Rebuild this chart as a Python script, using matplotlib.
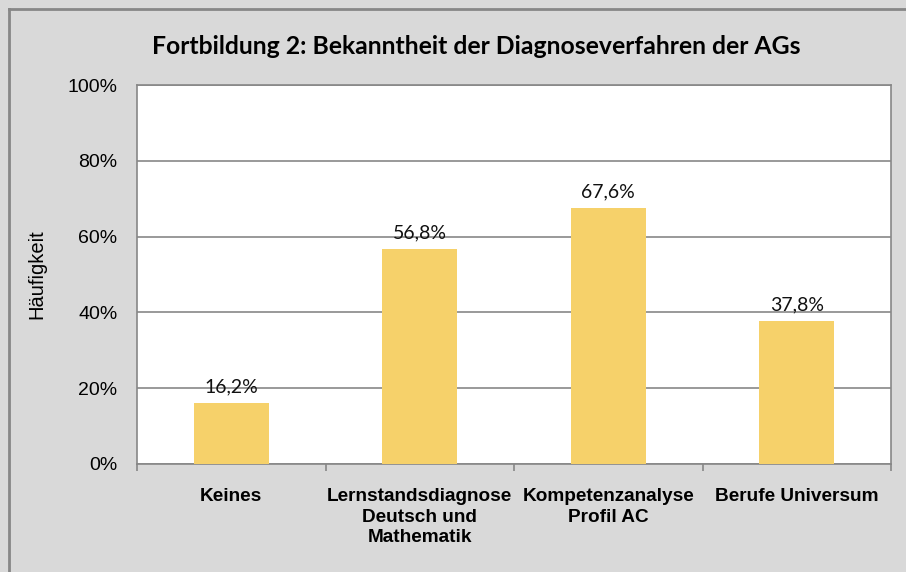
import matplotlib.pyplot as plt
from matplotlib.lines import Line2D
from matplotlib.ticker import FixedLocator, PercentFormatter
import numpy as np

# data
categories = ['Keines', 'Lernstandsdiagnose\nDeutsch und\nMathematik',
              'Kompetenzanalyse\nProfil AC', 'Berufe Universum']
values = [16.2, 56.8, 67.6, 37.8]
value_labels = ['16,2%', '56,8%', '67,6%', '37,8%']
y_ticks = [0, 20, 40, 60, 80, 100]

bg = '#d9d9d9'
edge = '#878787'
bar_color = '#f6d16a'

fig = plt.figure(figsize=(9.06, 5.72), dpi=100)
fig.patch.set_facecolor(bg)

# outer frame (only top and left visible in the crop)
fig.add_artist(Line2D([8.5 / 906, 1], [1 - 8.5 / 572] * 2, transform=fig.transFigure,
                      color=edge, lw=2))
fig.add_artist(Line2D([8.5 / 906] * 2, [0, 1 - 8.5 / 572], transform=fig.transFigure,
                      color=edge, lw=2))

ax = fig.add_axes([137 / 906, 1 - 464 / 572, (891 - 137) / 906, (464 - 85) / 572])
ax.set_facecolor('white')

x = np.arange(len(categories))
ax.bar(x, values, width=0.4, color=bar_color, zorder=3)

for xi, v, lab in zip(x, values, value_labels):
    ax.annotate(lab, (xi, v), xytext=(0, 5), textcoords='offset points',
                ha='center', va='bottom', fontsize=14, family='Lato', color='#111111')

ax.set_xlim(-0.5, len(categories) - 0.5)
ax.set_ylim(0, 100)
ax.set_yticks(y_ticks)
ax.yaxis.set_major_formatter(PercentFormatter(decimals=0))
ax.grid(axis='y', color=edge, lw=1.2, zorder=1)

ax.set_xticks(x)
ax.set_xticklabels(categories, fontsize=13.7, fontweight='bold', family='Liberation Sans',
                   linespacing=1.25)
ax.xaxis.set_minor_locator(FixedLocator(np.arange(len(categories) + 1) - 0.5))
ax.tick_params(axis='x', which='major', length=0, pad=17.5)
ax.tick_params(axis='x', which='minor', length=5, color=edge, width=1.2)
ax.tick_params(axis='y', length=0, pad=14, labelsize=14)
for t in ax.get_yticklabels():
    t.set_family('Liberation Sans')

for s in ax.spines.values():
    s.set_color(edge)
    s.set_linewidth(1.2)

ax.set_ylabel('Häufigkeit', fontsize=14.5, family='Liberation Sans', labelpad=15)

fig.text(476 / 906, 1 - 46 / 572, 'Fortbildung 2: Bekanntheit der Diagnoseverfahren der AGs',
         ha='center', va='center', fontsize=17.8, fontweight='bold', family='Lato')

fig.savefig('out.png', dpi=100, facecolor=bg)
